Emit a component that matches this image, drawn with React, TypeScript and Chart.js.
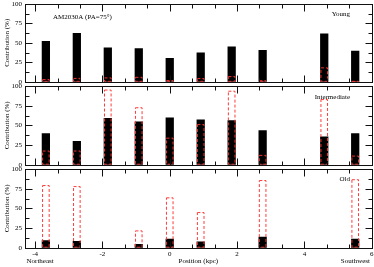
import React, { useEffect, useRef } from 'react';
import { Chart, registerables } from 'chart.js';

Chart.register(...registerables);

// ---- data ----
const positions = [-3.68, -2.76, -1.84, -0.92, 0, 0.92, 1.84, 2.76, 4.59, 5.51];
const youngLight = [52, 62, 43.4, 42.5, 30, 37, 44.7, 40.4, 61.4, 39.5];
const youngMass = [3.5, 5, 5.6, 6.4, 2.2, 4.8, 7.3, 2, 18.5, 1];
const interLight = [39.6, 29.7, 59, 54.6, 59.4, 57, 56, 43.4, 35.3, 39.6];
const interMass = [18, 18, 95.5, 73, 34.4, 51.6, 94, 12.5, 83.4, 11.6];
const oldLight = [8.9, 8.1, 0, 4.3, 11, 7.6, 0, 13.6, 0, 11];
const oldMass = [79.6, 78.3, 0, 22, 64, 45.3, 0, 86, 0, 87];
const panelNames = ['Young', 'Intermediate', 'Old'];
const xMin = -4.3;
const xMax = 6;
const xMajorStep = 2;
const yMajorStep = 25;
const titleText = 'AM2030A (PA=75°)';
const yTitle = 'Contribution (%)';
const xTitle = 'Position (kpc)';
const leftEnd = 'Northeast';
const rightEnd = 'Southwest';

const FONT = "'Liberation Serif', 'Times New Roman', serif";
const W = 374;
const H = 267;

const layouts = [
  { top: 3.8, bottom: 81.8, labelY: 14.5 },
  { top: 86, bottom: 164.7, labelY: 96.7 },
  { top: 169, bottom: 247.7, labelY: 179.5 },
];
const series = [
  { light: youngLight, mass: youngMass },
  { light: interLight, mass: interMass },
  { light: oldLight, mass: oldMass },
];

function makeChart(canvas: HTMLCanvasElement, idx: number) {
  const lay = layouts[idx];
  const s = series[idx];
  const isBottom = idx === 2;
  const deco = {
    id: 'deco' + idx,
    afterDatasetsDraw(chart: any) {
      const meta = chart.getDatasetMeta(1);
      const ctx = chart.ctx;
      ctx.save();
      ctx.strokeStyle = 'rgba(255,50,50,0.95)';
      ctx.lineWidth = 1;
      ctx.setLineDash([3, 2]);
      meta.data.forEach((el: any, i: number) => {
        if (!s.mass[i]) return;
        const { x, y, base, width } = el.getProps(['x', 'y', 'base', 'width'], true);
        ctx.strokeRect(x - width / 2 + 0.5, y + 0.5, width - 1, base - y - 1);
      });
      ctx.restore();
    },
    afterDraw(chart: any) {
      const { ctx, chartArea: a, scales } = chart;
      const xs = scales.x;
      const ys = scales.y;
      const r = (v: number) => Math.round(v) + 0.5;
      ctx.save();
      ctx.setLineDash([]);
      ctx.strokeStyle = '#111';
      ctx.lineWidth = 1;
      const L = r(a.left), R = r(a.right), T = r(a.top), B = r(a.bottom);
      ctx.strokeRect(L, T, R - L, B - T);
      ctx.beginPath();
      for (let k = 0; k < 100; k++) {
        const v = -4 + (k * xMajorStep) / 3;
        if (v > xMax + 1e-6) break;
        const px = r(xs.getPixelForValue(v));
        const len = k % 3 === 0 ? 7 : 4;
        ctx.moveTo(px, B);
        ctx.lineTo(px, B - len);
        ctx.moveTo(px, T);
        ctx.lineTo(px, T + len);
      }
      for (let k = 0; k <= 8; k++) {
        const v = (k * yMajorStep) / 2;
        const py = r(ys.getPixelForValue(v));
        const len = k % 2 === 0 ? 7 : 4;
        ctx.moveTo(L, py);
        ctx.lineTo(L + len, py);
        ctx.moveTo(R, py);
        ctx.lineTo(R - len, py);
      }
      ctx.stroke();
      ctx.fillStyle = '#000';
      ctx.font = `7px ${FONT}`;
      ctx.textBaseline = 'middle';
      ctx.textAlign = 'right';
      ctx.fillText(panelNames[idx], 350, lay.labelY);
      if (idx === 0) {
        ctx.textAlign = 'left';
        ctx.fillText(titleText, 53, 17.5);
      }
      if (isBottom) {
        ctx.textAlign = 'left';
        ctx.fillText(leftEnd, 26.5, 260.7);
        ctx.textAlign = 'right';
        ctx.fillText(rightEnd, 370, 260.7);
      }
      ctx.restore();
    },
  };

  return new Chart(canvas, {
    type: 'bar',
    data: {
      datasets: [
        {
          label: 'light',
          data: positions.map((x, i) => ({ x, y: s.light[i] > 0 ? s.light[i] : null })),
          backgroundColor: '#000',
          borderWidth: 0,
          barThickness: 7.6,
          grouped: false,
          order: 2,
        } as any,
        {
          label: 'mass',
          data: positions.map((x, i) => ({ x, y: s.mass[i] > 0 ? s.mass[i] : null })),
          backgroundColor: 'rgba(0,0,0,0)',
          borderWidth: 0,
          barThickness: 7.6,
          grouped: false,
          order: 1,
        } as any,
      ],
    },
    options: {
      animation: false,
      responsive: false,
      maintainAspectRatio: false,
      layout: {
        padding: { left: 0, right: W - 371.7, top: lay.top, bottom: isBottom ? 0 : H - lay.bottom },
      },
      plugins: {
        legend: { display: false },
        tooltip: { enabled: false },
      },
      scales: {
        x: {
          type: 'linear',
          min: xMin,
          max: xMax,
          offset: false,
          grid: { display: false, drawTicks: false },
          border: { display: false },
          ticks: {
            display: isBottom,
            stepSize: xMajorStep,
            includeBounds: false,
            autoSkip: false,
            maxRotation: 0,
            padding: 2,
            color: '#000',
            font: { family: FONT, size: 7 },
          },
          title: {
            display: isBottom,
            text: xTitle,
            color: '#000',
            font: { family: FONT, size: 7 },
            padding: { top: 0, bottom: 2 },
          },
          afterFit: (sc: any) => {
            sc.height = isBottom ? H - lay.bottom : 0;
            sc.paddingLeft = 0;
            sc.paddingRight = 0;
          },
        },
        y: {
          type: 'linear',
          min: 0,
          max: 100,
          grid: { display: false, drawTicks: false },
          border: { display: false },
          ticks: {
            stepSize: yMajorStep,
            padding: 3,
            color: '#000',
            font: { family: FONT, size: 7 },
          },
          title: {
            display: true,
            text: yTitle,
            color: '#000',
            font: { family: FONT, size: 7 },
            padding: 2.5,
          },
          afterFit: (sc: any) => {
            sc.width = 25;
            sc.paddingTop = 0;
            sc.paddingBottom = 0;
          },
        },
      },
    } as any,
    plugins: [deco],
  });
}

export default function App() {
  const refs = [useRef<HTMLCanvasElement>(null), useRef<HTMLCanvasElement>(null), useRef<HTMLCanvasElement>(null)];
  useEffect(() => {
    const charts = refs.map((r, i) => makeChart(r.current as HTMLCanvasElement, i));
    return () => charts.forEach((c) => c.destroy());
  }, []);
  return (
    <div style={{ position: 'fixed', left: 0, top: 0, width: W, height: H, background: '#fff' }}>
      {refs.map((r, i) => (
        <canvas key={i} ref={r} width={W} height={H} style={{ position: 'absolute', left: 0, top: 0 }} />
      ))}
    </div>
  );
}
